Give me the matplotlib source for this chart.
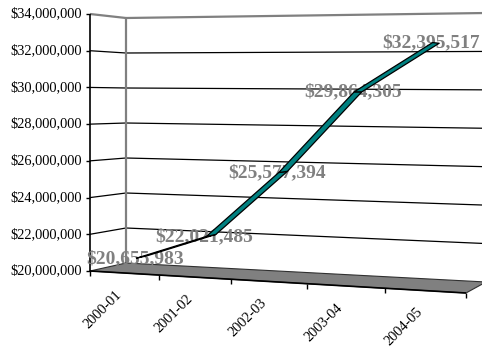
import numpy as np
import matplotlib
matplotlib.use('Agg')
import matplotlib.pyplot as plt
from matplotlib.patches import Polygon

# ---------------- data ----------------
categories = ['2000-01', '2001-02', '2002-03', '2003-04', '2004-05']
values = [20655983, 22021485, 25577394, 29864305, 32395517]
value_labels = ['$20,655,983', '$22,021,485', '$25,577,394', '$29,864,305', '$32,395,517']
y_ticks = [20e6, 22e6, 24e6, 26e6, 28e6, 30e6, 32e6, 34e6]
y_tick_labels = ['$20,000,000', '$22,000,000', '$24,000,000', '$26,000,000',
                 '$28,000,000', '$30,000,000', '$32,000,000', '$34,000,000']

# ---------------- layout (pixel frame of the faux-3D box) ----------------
W, H = 482, 347
FRONT = [(90, 271), (466, 293), (466, 9), (90, 14)]      # x0z0, x1z0, x1z1, x0z1
BACK = [(126, 263), (486, 282), (486, 13), (126, 18)]

def homog(dst):
    src = [(0, 0), (1, 0), (1, 1), (0, 1)]
    A, b = [], []
    for (u, v), (x, y) in zip(src, dst):
        A.append([u, v, 1, 0, 0, 0, -u * x, -v * x]); b.append(x)
        A.append([0, 0, 0, u, v, 1, -u * y, -v * y]); b.append(y)
    h = np.linalg.solve(np.array(A, float), np.array(b, float))
    return np.append(h, 1).reshape(3, 3)

HF, HB = homog(FRONT), homog(BACK)
n = len(categories)
zmin, zmax = y_ticks[0], y_ticks[-1]

def apply(Hm, u, v):
    p = Hm @ np.array([u, v, 1.0])
    return np.array([p[0] / p[2], p[1] / p[2]])

def proj(x, d, z):
    u = x / n
    v = (z - zmin) / (zmax - zmin)
    return (1 - d) * apply(HF, u, v) + d * apply(HB, u, v)

plt.rcParams['font.family'] = ['Liberation Serif', 'DejaVu Serif']

fig = plt.figure(figsize=(W / 100, H / 100), dpi=100)
ax = fig.add_axes([0, 0, 1, 1])
ax.set_xlim(0, W)
ax.set_ylim(H, 0)
ax.axis('off')

def seg(p, q, **kw):
    ax.plot([p[0], q[0]], [p[1], q[1]], solid_capstyle='butt', **kw)

# floor
floor = [proj(0, 0, zmin), proj(n, 0, zmin), proj(n, 1, zmin), proj(0, 1, zmin)]
ax.add_patch(Polygon(floor, closed=True, facecolor='#808080', edgecolor='#303030', lw=0.8, zorder=2))
seg(floor[0], floor[1], color='black', lw=1.2, zorder=3)

# back wall + left wall gridlines
for z in y_ticks[1:]:
    top = (z == zmax)
    col = '#808080' if top else 'black'
    lw = 1.6 if top else 0.9
    seg(proj(0, 1, z), proj(n, 1, z), color=col, lw=lw, zorder=1)
    seg(proj(0, 0, z), proj(0, 1, z), color=col, lw=lw, zorder=1)
seg(proj(0, 1, zmin), proj(0, 1, zmax), color='#808080', lw=1.6, zorder=1)

# front-left value axis
seg(proj(0, 0, zmin), proj(0, 0, zmax), color='black', lw=1.2, zorder=3)
for z, lab in zip(y_ticks, y_tick_labels):
    p = proj(0, 0, z)
    seg(p, p + np.array([-4, 0]), color='black', lw=1, zorder=3)
    ax.text(p[0] - 8, p[1], lab, ha='right', va='center', fontsize=10.4, color='black')

# category ticks and labels
for k in range(n + 1):
    p = proj(k, 0, zmin)
    seg(p, p + np.array([0, 5]), color='black', lw=1, zorder=3)
for i, cat in enumerate(categories):
    p = proj(i + 0.5, 0, zmin)
    ax.text(p[0] - 9, p[1] + 15, cat, rotation=45, ha='right', va='top',
            rotation_mode='anchor', fontsize=10.4, color='black')

# data labels
for i, (v, lab) in enumerate(zip(values, value_labels)):
    p = proj(i + 0.5, 0.3, v)
    ax.text(p[0], p[1], lab, ha='center', va='center', fontsize=14,
            fontweight='bold', color='#808080', zorder=4)

# ribbon
d1, d2 = 0.35, 0.65
for i in range(n - 1):
    a0 = proj(i + 0.5, d1, values[i]); b0 = proj(i + 1.5, d1, values[i + 1])
    b1 = proj(i + 1.5, d2, values[i + 1]); a1 = proj(i + 0.5, d2, values[i])
    ax.add_patch(Polygon([a0, b0, b1, a1], closed=True, facecolor='#008080',
                         edgecolor='black', lw=0.9, joinstyle='round', zorder=5))

fig.savefig('out.png', dpi=100)
